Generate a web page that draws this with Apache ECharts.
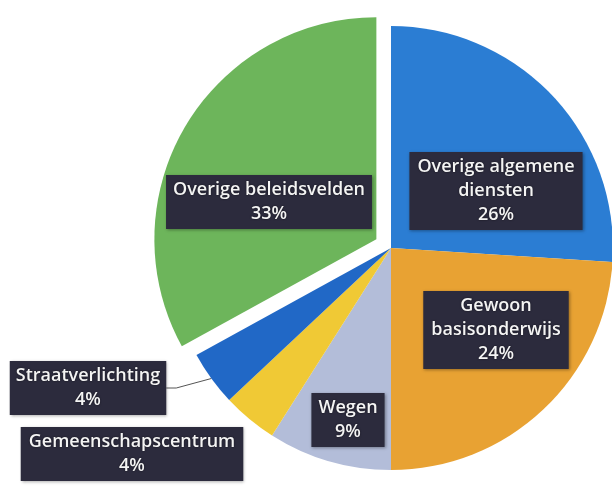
<!DOCTYPE html>
<html>
<head>
<meta charset="utf-8">
<script src="https://cdn.jsdelivr.net/npm/echarts@6/dist/echarts.min.js"></script>
<style>
html,body{margin:0;padding:0;background:#fff;}
#c{width:612px;height:486px;}
</style>
</head>
<body>
<div id="c"></div>
<script>
var categories = ['Overige algemene diensten', 'Gewoon basisonderwijs', 'Wegen', 'Gemeenschapscentrum', 'Straatverlichting', 'Overige beleidsvelden'];
var labelNames = ['Overige algemene\ndiensten', 'Gewoon\nbasisonderwijs', 'Wegen', 'Gemeenschapscentrum', 'Straatverlichting', 'Overige beleidsvelden'];
var values = [26, 24, 9, 4, 4, 33];

var colors = ['#2B7DD3', '#E8A233', '#B3BDD9', '#F0C935', '#2168C6', '#6DB55B'];
var labelCenters = [[496, 191], [496, 330], [348, 420], [132, 454], [88, 388], [269, 202]];
var labelPads = [[3, 8], [3, 8], [3, 7], [3, 8], [3, 6], [3, 7]];
var explodedIndex = 5;
var explodeDist = 17;
var pieCenter = [391, 248];

// direction of the exploded slice's bisector (start at top, clockwise)
var total = values.reduce(function (a, b) { return a + b; }, 0);
var before = 0;
for (var k = 0; k < explodedIndex; k++) before += values[k];
var midAng = (before + values[explodedIndex] / 2) / total * 2 * Math.PI;
var shiftedCenter = [pieCenter[0] + explodeDist * Math.sin(midAng), pieCenter[1] - explodeDist * Math.cos(midAng)];

function makeData(visibleFn) {
  return categories.map(function (c, i) {
    var vis = visibleFn(i);
    return {
      name: c,
      value: values[i],
      itemStyle: { color: vis ? colors[i] : 'rgba(0,0,0,0)' },
      label: { show: vis, position: i === 4 ? 'outside' : 'inside', padding: labelPads[i] },
      labelLine: { show: vis && i === 4, length: 10, length2: 10, lineStyle: { color: '#555', width: 1 } }
    };
  });
}

var labelStyle = {
  show: true,
  formatter: function (p) { return labelNames[p.dataIndex] + '\n' + p.value + '%'; },
  color: '#F4F4F4',
  fontFamily: 'Open Sans',
  fontWeight: 600,
  fontSize: 18,
  lineHeight: 24,
  align: 'center',
  backgroundColor: '#2C2B3D',
  shadowColor: 'rgba(0,0,0,0.35)',
  shadowBlur: 3,
  shadowOffsetX: 1,
  shadowOffsetY: 1,
  textShadowColor: 'rgba(0,0,0,0.6)',
  textShadowBlur: 2
};

function layoutFn(p) {
  var c = labelCenters[p.dataIndex];
  return { x: c[0], y: c[1], align: 'center', verticalAlign: 'middle' };
}

var baseSeries = {
  type: 'pie',
  radius: 222,
  startAngle: 90,
  clockwise: true,
  silent: true,
  avoidLabelOverlap: false,
  label: labelStyle,
  emphasis: { disabled: true },
  labelLayout: layoutFn
};

var chart = echarts.init(document.getElementById('c'));
chart.setOption({
  animation: false,
  backgroundColor: '#ffffff',
  series: [
    Object.assign({}, baseSeries, {
      center: pieCenter,
      data: makeData(function (i) { return i !== explodedIndex; })
    }),
    Object.assign({}, baseSeries, {
      center: shiftedCenter,
      data: makeData(function (i) { return i === explodedIndex; })
    })
  ]
});
</script>
</body>
</html>
